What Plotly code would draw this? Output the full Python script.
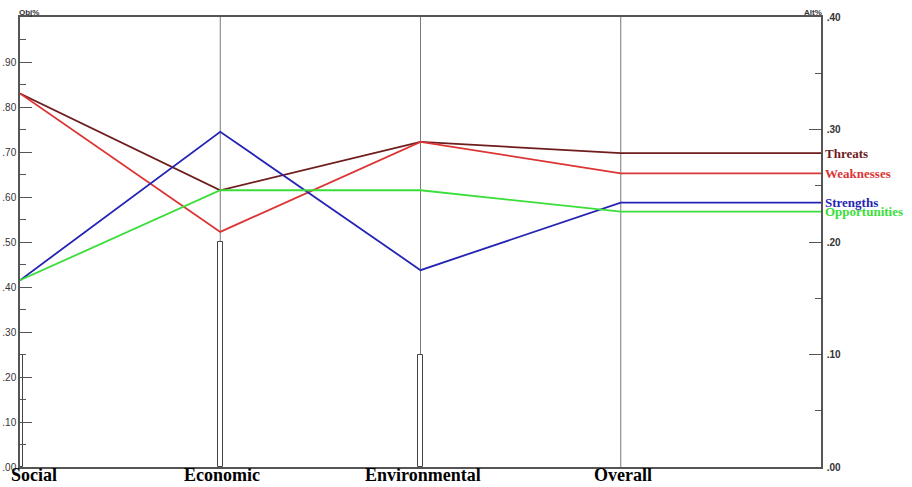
import plotly.graph_objects as go

criteria = ["Social", "Economic", "Environmental", "Overall"]
criteria_weights = [0.25, 0.50, 0.25]  # Obj% bars (left axis)

alternatives = ["Threats", "Weaknesses", "Strengths", "Opportunities"]
# Alt% values at Social, Economic, Environmental, Overall (right axis)
threats = [0.332, 0.246, 0.289, 0.279]
weaknesses = [0.332, 0.209, 0.289, 0.261]
strengths = [0.166, 0.298, 0.175, 0.235]
opportunities = [0.166, 0.246, 0.246, 0.227]
series = [threats, weaknesses, strengths, opportunities]
colors = ["#6e1c1c", "#dc3434", "#2424b4", "#3ade3a"]

left_ticks = [0.0, 0.1, 0.2, 0.3, 0.4, 0.5, 0.6, 0.7, 0.8, 0.9]
left_labels = [".00", ".10", ".20", ".30", ".40", ".50", ".60", ".70", ".80", ".90"]
right_ticks = [0.0, 0.1, 0.2, 0.3, 0.4]
right_labels = [".00", ".10", ".20", ".30", ".40"]

xpos = list(range(len(criteria)))
x_end = len(criteria)  # right axis position

fig = go.Figure()

# criterion weight bars
fig.add_trace(go.Bar(
    x=xpos[:3], y=criteria_weights, width=0.025,
    marker=dict(color="white", line=dict(color="#444444", width=1)),
    yaxis="y", showlegend=False, hoverinfo="skip"))

for name, vals, col in zip(alternatives, series, colors):
    fig.add_trace(go.Scatter(
        x=xpos + [x_end], y=vals + [vals[-1]], mode="lines",
        line=dict(color=col, width=1.8), yaxis="y2", name=name,
        showlegend=False, cliponaxis=False))
    fig.add_annotation(x=x_end, y=vals[-1], xref="x", yref="y2",
                       text=name, showarrow=False, xanchor="left", yanchor="middle",
                       xshift=3, borderpad=0,
                       font=dict(family="Liberation Serif", size=13, color=col, weight="bold"))

# vertical criterion lines
for xv in xpos[1:]:
    fig.add_shape(type="line", x0=xv, x1=xv, y0=0, y1=1, xref="x", yref="paper",
                  line=dict(color="#7a7a7a", width=1), layer="below")

# category labels
for i, c in enumerate(criteria):
    fig.add_annotation(x=xpos[i], y=0, xref="x", yref="paper", text=c,
                       showarrow=False, yanchor="top", yshift=3, borderpad=0,
                       xanchor="left" if i == 0 else "center",
                       xshift=-10 if i == 0 else 2,
                       font=dict(family="Liberation Serif", size=18, color="black", weight="bold"))

fig.add_annotation(x=0, y=1, xref="paper", yref="paper", text="Obj%", showarrow=False,
                   xanchor="left", yanchor="bottom", xshift=-2, yshift=-1, borderpad=0,
                   font=dict(family="Liberation Sans", size=8, color="#333333", weight="bold"))
fig.add_annotation(x=1, y=1, xref="paper", yref="paper", text="Alt%", showarrow=False,
                   xanchor="right", yanchor="bottom", xshift=2, yshift=-1, borderpad=0,
                   font=dict(family="Liberation Sans", size=8, color="#333333", weight="bold"))

tickfont = dict(family="Liberation Sans", size=10, color="#333333")
fig.update_layout(
    width=912, height=487,
    margin=dict(l=20, r=91, t=17, b=20, autoexpand=False),
    plot_bgcolor="white", paper_bgcolor="white",
    bargap=0,
    xaxis=dict(range=[0, x_end], showgrid=False, zeroline=False, showticklabels=False,
               showline=True, linecolor="#555555", linewidth=1.5, mirror=True, ticks="",
               automargin=False),
    yaxis=dict(range=[0, 1], tickvals=left_ticks, ticktext=left_labels, ticks="inside",
               ticklen=12, tickcolor="#555555", tickwidth=1.2, showgrid=False, zeroline=False,
               showline=True, linecolor="#555555", linewidth=1.5, tickfont=tickfont,
               ticklabelstandoff=0, automargin=False,
               minor=dict(dtick=0.05, ticks="inside", ticklen=6, tickcolor="#555555", tickwidth=1.2)),
    yaxis2=dict(range=[0, 0.4], overlaying="y", side="right", tickvals=right_ticks,
                ticktext=right_labels, ticks="inside", ticklen=12, tickcolor="#555555",
                tickwidth=1.2, showgrid=False, zeroline=False, showline=True,
                linecolor="#555555", linewidth=1.5, automargin=False,
                tickfont=dict(family="Liberation Sans", size=10, color="#333333", weight="bold"),
                ticklabelstandoff=2,
                minor=dict(dtick=0.05, ticks="inside", ticklen=6, tickcolor="#555555", tickwidth=1.2)),
)

fig.write_html("out.html", config={"displayModeBar": False},
               post_script="document.body.style.margin='0';document.body.style.overflow='hidden';")
